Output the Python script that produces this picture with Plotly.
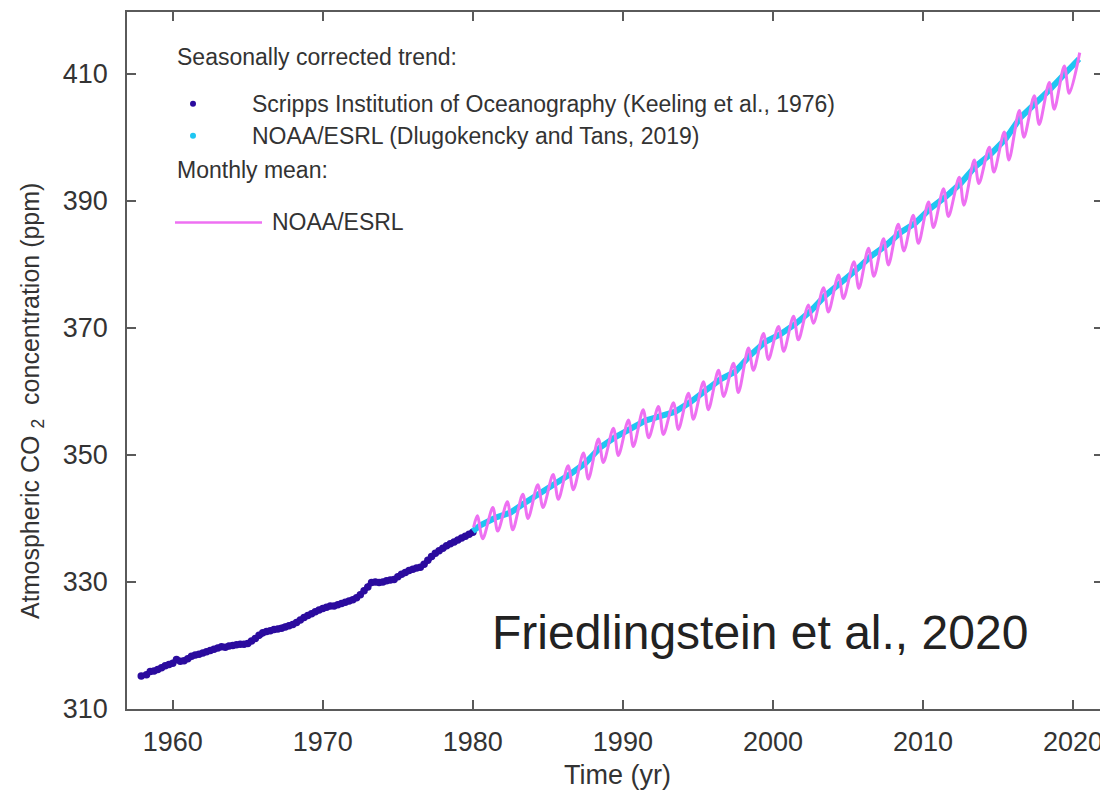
import plotly.graph_objects as go

# ---------------- data ----------------
scripps_year = [1957.90, 1958.25, 1958.50, 1958.75, 1959.00, 1959.25, 1959.50, 1959.75, 1960.00,
                1960.25, 1960.50, 1960.75, 1961.00, 1961.25, 1961.50, 1961.75, 1962.00,
                1962.25, 1962.50, 1962.75, 1963.00, 1963.25, 1963.50, 1963.75, 1964.00,
                1964.25, 1964.50, 1964.75, 1965.00, 1965.25, 1965.50, 1965.75, 1966.00,
                1966.25, 1966.50, 1966.75, 1967.00, 1967.25, 1967.50, 1967.75, 1968.00,
                1968.25, 1968.50, 1968.75, 1969.00, 1969.25, 1969.50, 1969.75, 1970.00,
                1970.25, 1970.50, 1970.75, 1971.00, 1971.25, 1971.50, 1971.75, 1972.00,
                1972.25, 1972.50, 1972.75, 1973.00, 1973.25, 1973.50, 1973.75, 1974.00,
                1974.25, 1974.50, 1974.75, 1975.00, 1975.25, 1975.50, 1975.75, 1976.00,
                1976.25, 1976.50, 1976.75, 1977.00, 1977.25, 1977.50, 1977.75, 1978.00,
                1978.25, 1978.50, 1978.75, 1979.00, 1979.25, 1979.50, 1979.75, 1980.00]
scripps_ppm = [315.2, 315.4, 315.9, 316.0, 316.2, 316.5, 316.8, 317.0, 317.2,
               317.8, 317.5, 317.6, 317.9, 318.3, 318.5, 318.6, 318.8,
               319.0, 319.2, 319.4, 319.6, 319.8, 319.7, 319.9, 320.0,
               320.1, 320.2, 320.2, 320.3, 320.7, 321.1, 321.6, 322.0,
               322.2, 322.3, 322.5, 322.6, 322.7, 322.9, 323.1, 323.3,
               323.6, 324.0, 324.4, 324.7, 325.0, 325.3, 325.6, 325.8,
               326.0, 326.2, 326.2, 326.4, 326.6, 326.8, 327.0, 327.2,
               327.5, 328.0, 328.6, 329.2, 329.9, 330.0, 329.9, 330.0,
               330.2, 330.3, 330.4, 330.8, 331.2, 331.5, 331.8, 332.0,
               332.2, 332.3, 332.8, 333.4, 334.0, 334.5, 334.9, 335.3,
               335.7, 336.0, 336.3, 336.6, 336.9, 337.2, 337.5, 337.8]

trend_year = [1980.0, 1980.5, 1981.5, 1982.5, 1983.5, 1984.5, 1985.5, 1986.5, 1987.5,
              1988.5, 1989.5, 1990.5, 1991.5, 1992.5, 1993.5, 1994.5, 1995.5, 1996.5,
              1997.5, 1998.5, 1999.5, 2000.5, 2001.5, 2002.5, 2003.5, 2004.5, 2005.5,
              2006.5, 2007.5, 2008.5, 2009.5, 2010.5, 2011.5, 2012.5, 2013.5, 2014.5,
              2015.5, 2016.5, 2017.5, 2018.5, 2019.5, 2020.4]
trend_ppm = [338.0, 338.9, 340.1, 340.9, 342.5, 344.1, 345.5, 347.0, 348.7,
             351.2, 352.8, 354.1, 355.4, 356.1, 356.8, 358.3, 360.2, 361.9,
             363.1, 365.7, 367.8, 369.0, 370.6, 372.6, 375.1, 377.0, 379.0,
             381.2, 382.9, 385.0, 386.5, 388.8, 390.6, 392.7, 395.4, 397.3,
             399.7, 403.1, 405.2, 407.6, 410.1, 412.3]

monthly_year = [1980.05, 1980.30, 1980.66, 1981.33, 1981.66, 1982.30, 1982.66, 1983.33, 1983.68,
                1984.33, 1984.68, 1985.35, 1985.70, 1986.35, 1986.70, 1987.37, 1987.70,
                1988.37, 1988.70, 1989.37, 1989.70, 1990.37, 1990.70, 1991.35, 1991.72,
                1992.37, 1992.70, 1993.37, 1993.70, 1994.37, 1994.70, 1995.37, 1995.70,
                1996.37, 1996.72, 1997.37, 1997.70, 1998.37, 1998.70, 1999.37, 1999.70,
                2000.37, 2000.72, 2001.37, 2001.70, 2002.37, 2002.70, 2003.37, 2003.70,
                2004.37, 2004.70, 2005.40, 2005.73, 2006.37, 2006.73, 2007.37, 2007.70,
                2008.35, 2008.73, 2009.35, 2009.70, 2010.37, 2010.70, 2011.37, 2011.70,
                2012.42, 2012.73, 2013.42, 2013.73, 2014.42, 2014.73, 2015.42, 2015.73,
                2016.42, 2016.73, 2017.42, 2017.75, 2018.42, 2018.75, 2019.42, 2019.75,
                2020.45]
monthly_ppm = [338.6, 340.4, 336.8, 341.7, 338.0, 342.6, 338.2, 343.8, 340.0,
               345.3, 341.7, 346.9, 343.0, 348.3, 344.5, 350.3, 346.2,
               352.5, 348.8, 354.2, 349.9, 355.5, 351.3, 357.1, 352.7,
               357.6, 353.2, 358.2, 354.0, 359.7, 355.6, 361.5, 357.1,
               363.3, 359.2, 364.4, 359.8, 366.8, 363.3, 369.1, 365.0,
               370.2, 366.3, 371.8, 368.1, 373.6, 370.7, 376.3, 372.5,
               378.3, 374.6, 380.4, 376.2, 382.5, 378.1, 384.0, 379.9,
               386.3, 382.1, 387.7, 383.3, 389.8, 385.8, 391.9, 387.5,
               393.7, 389.3, 396.4, 392.7, 398.4, 394.5, 400.8, 396.4,
               404.2, 400.0, 406.5, 402.0, 408.6, 404.4, 411.2, 406.9,
               413.3]

x_ticks = [1960, 1970, 1980, 1990, 2000, 2010, 2020]
y_ticks = [310, 330, 350, 370, 390, 410]

legend_header_1 = "Seasonally corrected trend:"
legend_scripps = "Scripps Institution of Oceanography (Keeling et al., 1976)"
legend_noaa_trend = "NOAA/ESRL (Dlugokencky and Tans, 2019)"
legend_header_2 = "Monthly mean:"
legend_noaa_monthly = "NOAA/ESRL"
credit = "Friedlingstein et al., 2020"

# ---------------- styling ----------------
FONT = "Liberation Sans, Arial, Helvetica, sans-serif"
C_SCRIPPS = "#2B0B9E"
C_TREND = "#1EC6F2"
C_MONTHLY = "#EE70F2"
AXIS_C = "#5a5a5a"
TEXT_C = "#333333"

# page has an 8px body margin; the figure is sized so the plot box lands
# at the reference position in the 1108x792 window
OFF = 8
W, H = 1108 - OFF, 792 - OFF
L, R, T, B = 127 - OFF, 5, 10 - OFF, 83
PW, PH = W - L - R, H - T - B


def px(xp):
    # window pixel -> paper coordinate
    return (xp - OFF - L) / PW


def py(yp):
    return (H - B - (yp - OFF)) / PH


fig = go.Figure()
fig.add_trace(go.Scatter(x=scripps_year, y=scripps_ppm, mode="lines+markers",
                         line=dict(color=C_SCRIPPS, width=5),
                         marker=dict(color=C_SCRIPPS, size=7.5), showlegend=False))
fig.add_trace(go.Scatter(x=trend_year, y=trend_ppm, mode="lines",
                         line=dict(color=C_TREND, width=6), showlegend=False))
fig.add_trace(go.Scatter(x=monthly_year, y=monthly_ppm, mode="lines",
                         line=dict(color=C_MONTHLY, width=3, shape="spline", smoothing=0.9),
                         showlegend=False))

axis_common = dict(showline=True, linecolor=AXIS_C, linewidth=1.5, mirror="ticks",
                   ticks="inside", ticklen=9, tickwidth=1.5, tickcolor=AXIS_C,
                   showgrid=False, zeroline=False,
                   tickfont=dict(family=FONT, size=27, color=TEXT_C))

fig.update_xaxes(range=[1956.95, 2022.0], tickvals=x_ticks, ticklabelstandoff=8, **axis_common)
fig.update_yaxes(range=[310, 419.7], tickvals=y_ticks, ticklabelstandoff=12, **axis_common)

ann = []
lf = dict(family=FONT, size=23, color=TEXT_C)
ann.append(dict(text=legend_header_1, x=px(175), y=py(55), xanchor="left", yanchor="middle", font=lf))
ann.append(dict(text=legend_scripps, x=px(250), y=py(102), xanchor="left", yanchor="middle", font=lf))
ann.append(dict(text=legend_noaa_trend, x=px(250), y=py(134), xanchor="left", yanchor="middle", font=lf))
ann.append(dict(text=legend_header_2, x=px(175), y=py(168), xanchor="left", yanchor="middle", font=lf))
ann.append(dict(text=legend_noaa_monthly, x=px(270), y=py(221), xanchor="left", yanchor="middle", font=lf))
ann.append(dict(text=credit, x=px(490), y=py(632), xanchor="left", yanchor="middle",
                font=dict(family=FONT, size=48, color="#222222")))
ann.append(dict(text="Time (yr)", x=px(617), y=py(775), xanchor="center", yanchor="middle",
                font=dict(family=FONT, size=27, color=TEXT_C)))
ann.append(dict(text="Atmospheric CO <sub>2</sub>  concentration (ppm)", x=px(32), y=py(400),
                xanchor="center", yanchor="middle", textangle=-90,
                font=dict(family=FONT, size=25, color=TEXT_C)))
for a in ann:
    a.update(xref="paper", yref="paper", showarrow=False)

shapes = [
    dict(type="circle", xref="paper", yref="paper", xsizemode="pixel", ysizemode="pixel",
         xanchor=px(193), yanchor=py(102), x0=-3, x1=3, y0=-3, y1=3,
         fillcolor=C_SCRIPPS, line=dict(width=0)),
    dict(type="circle", xref="paper", yref="paper", xsizemode="pixel", ysizemode="pixel",
         xanchor=px(193), yanchor=py(134), x0=-3, x1=3, y0=-3, y1=3,
         fillcolor=C_TREND, line=dict(width=0)),
    dict(type="line", xref="paper", yref="paper", x0=px(175), x1=px(262), y0=py(221), y1=py(221),
         line=dict(color=C_MONTHLY, width=2.5)),
]

fig.update_layout(width=W, height=H, margin=dict(l=L, r=R, t=T, b=B),
                  paper_bgcolor="white", plot_bgcolor="white",
                  annotations=ann, shapes=shapes, showlegend=False)

fig.write_html("out.html")
